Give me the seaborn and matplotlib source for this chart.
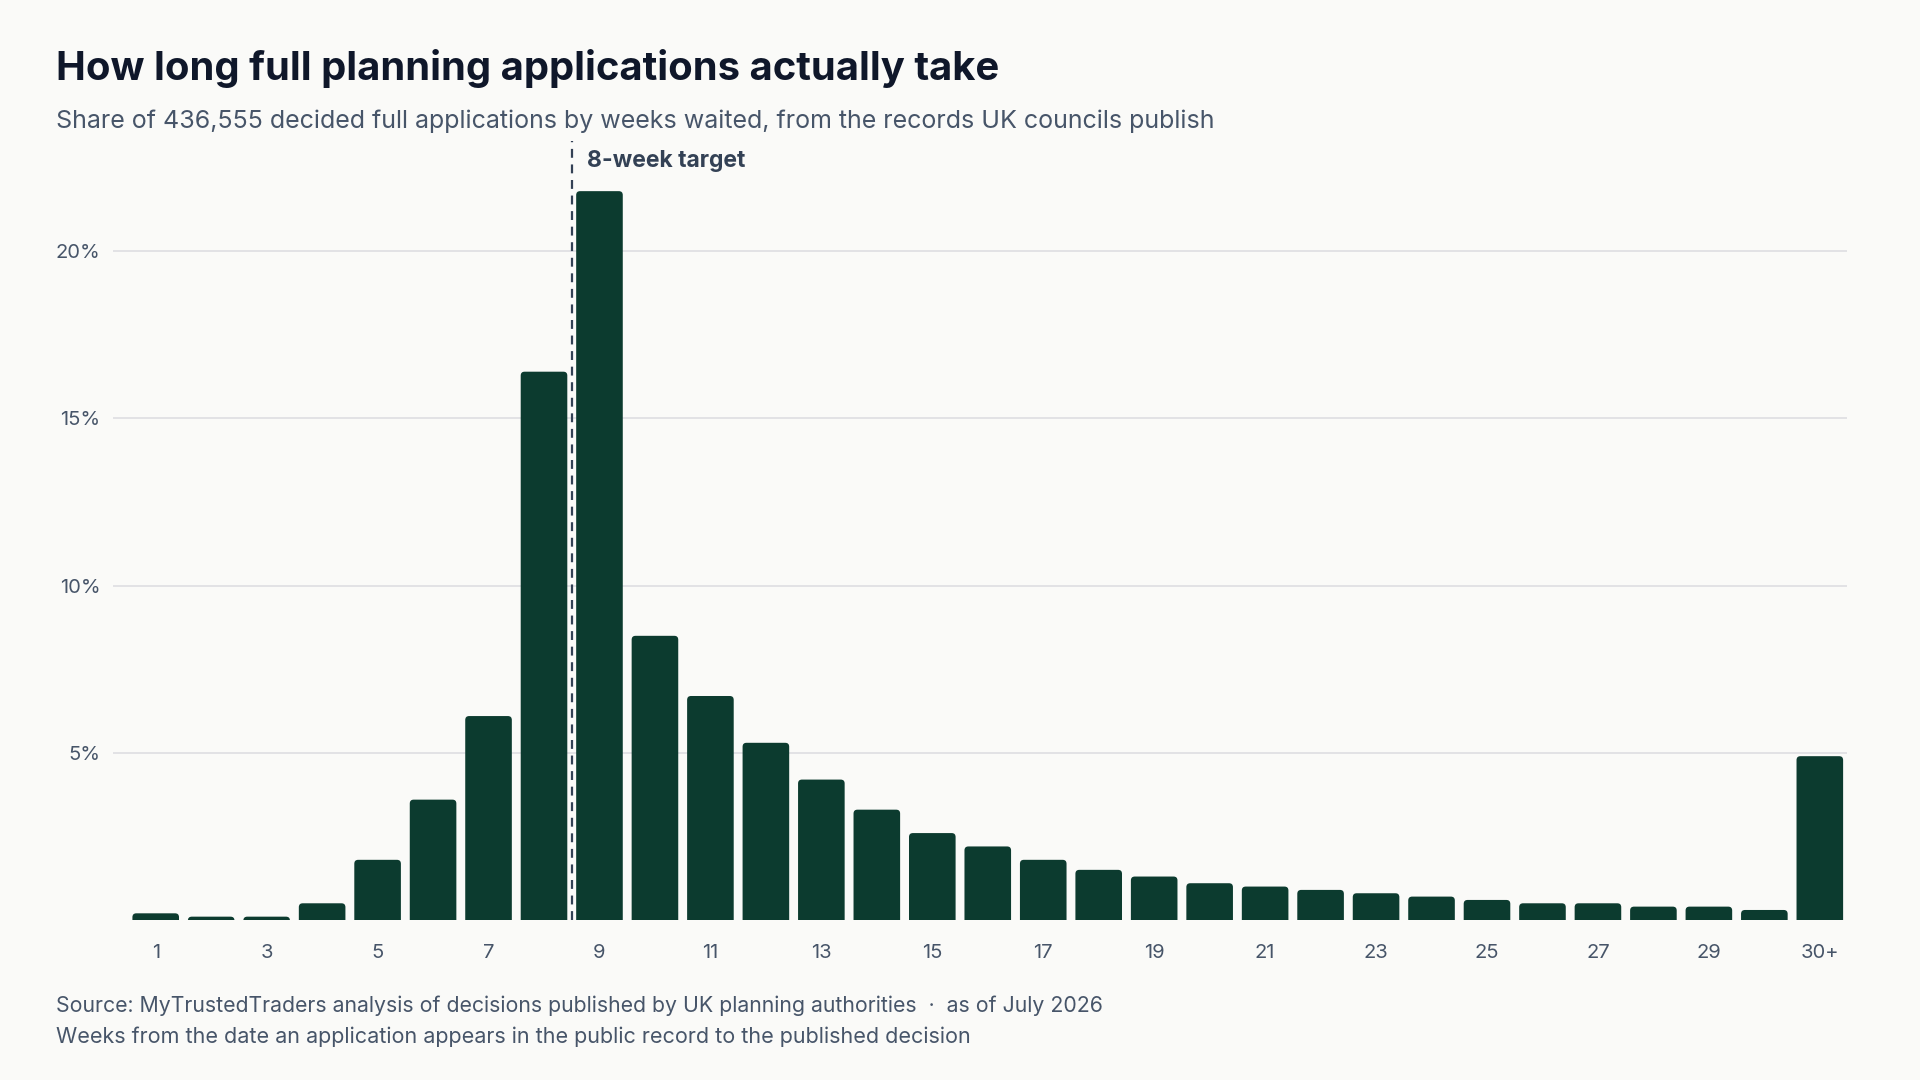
import matplotlib
matplotlib.use("Agg")
import matplotlib.pyplot as plt
from matplotlib.patches import FancyBboxPatch
import seaborn as sns
import pandas as pd

# weeks waited: 1..30 plus a 30+ bucket
weeks = [str(w) for w in range(1, 31)] + ["30+"]
share = [0.2, 0.1, 0.1, 0.5, 1.8, 3.6, 6.1, 16.4, 21.8, 8.5,
         6.7, 5.3, 4.2, 3.3, 2.6, 2.2, 1.8, 1.5, 1.3, 1.1,
         1.0, 0.9, 0.8, 0.7, 0.6, 0.5, 0.5, 0.4, 0.4, 0.3, 4.9]

tick_labels = ["1", "3", "5", "7", "9", "11", "13", "15", "17", "19",
               "21", "23", "25", "27", "29", "30+"]
y_ticks = [5, 10, 15, 20]

BG = "#fafaf8"
BAR = "#0c3b2f"
INK = "#0f172a"
SLATE = "#475569"
GRID = "#dedee2"

sns.set_theme(style="white")
plt.rcParams["font.family"] = ["Inter", "DejaVu Sans"]

df = pd.DataFrame({"week": weeks, "share": share})

fig = plt.figure(figsize=(19.2, 10.8), dpi=100, facecolor=BG)
ax = fig.add_axes([113 / 1920, 1 - 920 / 1080, (1847 - 113) / 1920, (920 - 141) / 1080])
ax.set_facecolor(BG)

sns.barplot(data=df, x="week", y="share", color=BAR, width=0.84,
            saturation=1, ax=ax, zorder=3)

ax.set_xlim(-0.77, 30.49)
ax.set_ylim(0, 23.3)

# give the bars slightly rounded tops
for bar in list(ax.patches):
    x0, w, h = bar.get_x(), bar.get_width(), bar.get_height()
    bar.remove()
    ax.add_patch(FancyBboxPatch((x0, -0.5), w, h + 0.5,
                                boxstyle="round,pad=0,rounding_size=0.07",
                                mutation_aspect=1.66, facecolor=BAR,
                                edgecolor="none", zorder=3))

ax.set_yticks(y_ticks)
ax.set_yticklabels([f"{t}%" for t in y_ticks])
ax.set_xticks([weeks.index(t) for t in tick_labels])
ax.set_xticklabels(tick_labels)
ax.tick_params(axis="both", length=0, labelsize=14.5, labelcolor=SLATE)
ax.tick_params(axis="y", pad=9)
ax.tick_params(axis="x", pad=17)
ax.yaxis.grid(True, color=GRID, linewidth=1.2, zorder=0)
ax.set_xlabel("")
ax.set_ylabel("")
for s in ax.spines.values():
    s.set_visible(False)

# 8-week target line between the week 8 and week 9 bars
target = weeks.index("8") + 0.5
ax.axvline(target, color="#334155", linewidth=1.6, linestyle=(0, (4, 3)), zorder=4)
ax.annotate("8-week target", xy=(target, 22.7), xytext=(11, 0),
            textcoords="offset points", ha="left", va="center",
            fontsize=16.5, fontweight="bold", color="#334155")

fig.text(56 / 1920, 1 - 80 / 1080, "How long full planning applications actually take",
         fontsize=28.8, fontweight="bold", color=INK, va="baseline", ha="left")
fig.text(56 / 1920, 1 - 128 / 1080,
         "Share of 436,555 decided full applications by weeks waited, from the records UK councils publish",
         fontsize=18, color=SLATE, va="baseline", ha="left")
fig.text(56 / 1920, 1 - 1012 / 1080,
         "Source: MyTrustedTraders analysis of decisions published by UK planning authorities  ·  as of July 2026",
         fontsize=15.3, color=SLATE, va="baseline", ha="left")
fig.text(56 / 1920, 1 - 1043 / 1080,
         "Weeks from the date an application appears in the public record to the published decision",
         fontsize=15.5, color=SLATE, va="baseline", ha="left")

fig.savefig("out.png", dpi=100, facecolor=BG)
